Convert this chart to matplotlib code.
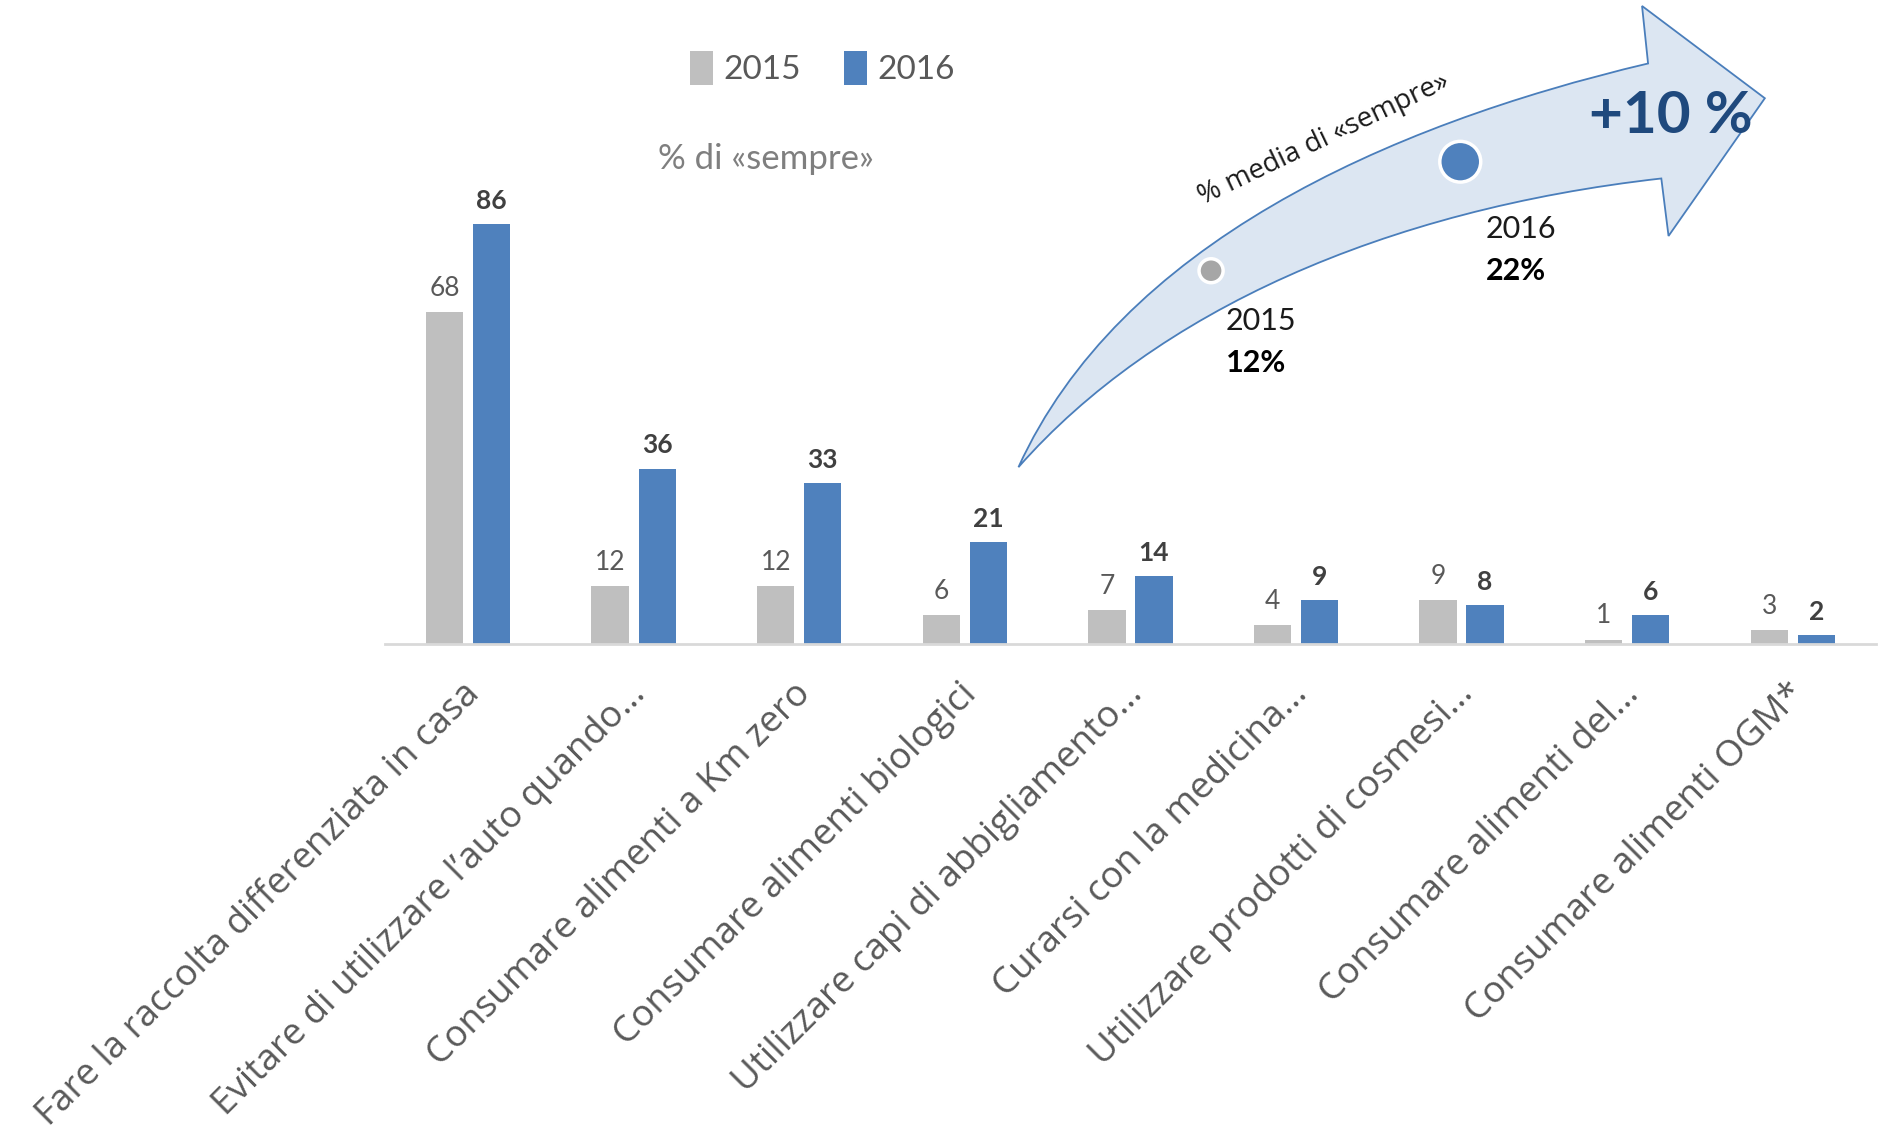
import matplotlib
matplotlib.use("Agg")
import matplotlib.pyplot as plt
from matplotlib.path import Path
from matplotlib.patches import PathPatch, Circle
import matplotlib.transforms as mtransforms
import numpy as np

categories = [
    "Fare la raccolta differenziata in casa",
    "Evitare di utilizzare l\u2019auto quando\u2026",
    "Consumare alimenti a Km zero",
    "Consumare alimenti biologici",
    "Utilizzare capi di abbigliamento\u2026",
    "Curarsi con la medicina\u2026",
    "Utilizzare prodotti di cosmesi\u2026",
    "Consumare alimenti del\u2026",
    "Consumare alimenti OGM*",
]
values_2015 = [68, 12, 12, 6, 7, 4, 9, 1, 3]
values_2016 = [86, 36, 33, 21, 14, 9, 8, 6, 2]
series_names = ["2015", "2016"]
avg_2015 = "12%"
avg_2016 = "22%"
delta_label = "+10 %"

GRAY = "#bfbfbf"
BLUE = "#4f81bd"

W, H = 1878, 1132
fig = plt.figure(figsize=(W / 100, H / 100), dpi=100)
RW, RH = 1560.0, 945.0  # reference layout units

ax = fig.add_axes([320 / RW, 1 - 538 / RH, (1558 - 320) / RW, 408 / RH])
x = np.arange(len(categories))
bw = 0.225
off = 0.142
b1 = ax.bar(x - off, values_2015, bw, color=GRAY, label=series_names[0], zorder=2)
b2 = ax.bar(x + off, values_2016, bw, color=BLUE, label=series_names[1], zorder=2)
ax.set_xlim(-0.5, len(categories) - 0.5)
ax.set_ylim(0, 100)
for s in ["top", "right", "left"]:
    ax.spines[s].set_visible(False)
ax.spines["bottom"].set_color("#d9d9d9")
ax.spines["bottom"].set_linewidth(2)
ax.set_yticks([])
ax.tick_params(axis="x", length=0, pad=32)
ax.set_xticks(x + 0.04)
ax.set_xticklabels(categories, rotation=45, ha="right", va="center",
                   rotation_mode="anchor", fontsize=26.5, color="#595959",
                   family="Open Sans")

for xi, v in zip(x, values_2015):
    ax.annotate(str(v), (xi - off, v), xytext=(0, 8), textcoords="offset points",
                ha="center", va="bottom", fontsize=19, color="#595959", family="Lato")
for xi, v in zip(x, values_2016):
    ax.annotate(str(v), (xi + off, v), xytext=(0, 8), textcoords="offset points",
                ha="center", va="bottom", fontsize=19, color="#404040",
                fontweight="bold", family="Lato")

leg = fig.legend(handles=[b1, b2], labels=series_names, loc="center",
                 bbox_to_anchor=(683 / RW, 1 - 57 / RH), ncol=2, frameon=False,
                 handlelength=0.7, handleheight=1.2, handletextpad=0.3,
                 columnspacing=1.3, prop={"family": "Lato", "size": 24})
for t in leg.get_texts():
    t.set_color("#595959")

fig.text(636 / RW, 1 - 133 / RH, "% di \u00absempre\u00bb", ha="center", va="center",
         fontsize=25, color="#7f7f7f", family="Lato")

# reference-unit transform (origin top-left)
T = mtransforms.Affine2D().scale(1 / RW, -1 / RH).translate(0, 1) + fig.transFigure

verts = [
    (846, 390),
    (930, 205), (1150, 105), (1369, 53),
    (1364, 5),
    (1466, 82),
    (1386, 197),
    (1380, 149),
    (1150, 175), (960, 260), (846, 390),
    (846, 390),
]
codes = [Path.MOVETO,
         Path.CURVE4, Path.CURVE4, Path.CURVE4,
         Path.LINETO, Path.LINETO, Path.LINETO, Path.LINETO,
         Path.CURVE4, Path.CURVE4, Path.CURVE4,
         Path.CLOSEPOLY]
arrow = PathPatch(Path(verts, codes), facecolor="#dce6f2", edgecolor="#4a7ebb",
                  linewidth=1.3, transform=T, zorder=5)
fig.patches.append(arrow)

fig.patches.append(Circle((1006, 226), 10, facecolor="#a6a6a6", edgecolor="white",
                          linewidth=2.5, transform=T, zorder=6))
fig.patches.append(Circle((1213, 135), 17, facecolor=BLUE, edgecolor="white",
                          linewidth=2.5, transform=T, zorder=6))

fig.text(1100, 116, "% media di \u00absempre\u00bb", transform=T, rotation=25.5,
         ha="center", va="center", fontsize=20, color="#1a1a1a", family="Open Sans",
         rotation_mode="anchor", zorder=7)
fig.text(1018, 268, series_names[0], transform=T, ha="left", va="center",
         fontsize=22, color="#1a1a1a", family="Lato", zorder=7)
fig.text(1018, 303, avg_2015, transform=T, ha="left", va="center",
         fontsize=22, color="#000000", family="Lato", fontweight="bold", zorder=7)
fig.text(1234, 191, series_names[1], transform=T, ha="left", va="center",
         fontsize=22, color="#1a1a1a", family="Lato", zorder=7)
fig.text(1234, 226, avg_2016, transform=T, ha="left", va="center",
         fontsize=22, color="#000000", family="Lato", fontweight="bold", zorder=7)
fig.text(1388, 97, delta_label, transform=T, ha="center", va="center",
         fontsize=42, color="#1f497d", family="Lato", fontweight="bold", zorder=7)

fig.savefig("out.png", dpi=100)
